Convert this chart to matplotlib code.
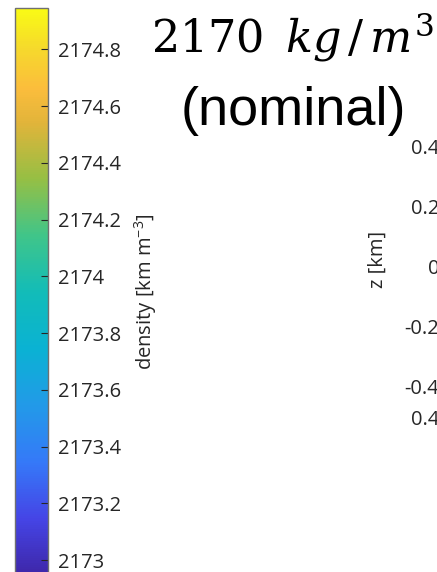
import numpy as np
import matplotlib
matplotlib.use("Agg")
from matplotlib import pyplot as plt
from matplotlib import colors
from matplotlib.cm import ScalarMappable

# data
cbar_min = 2172.944
cbar_max = 2174.946
cbar_ticks = [2173, 2173.2, 2173.4, 2173.6, 2173.8, 2174, 2174.2, 2174.4, 2174.6, 2174.8]
cbar_labels = ['2173', '2173.2', '2173.4', '2173.6', '2173.8', '2174',
               '2174.2', '2174.4', '2174.6', '2174.8']
cbar_title = r'density [km m$^{-3}$]'
title_line1 = r'$\mathrm{2170}\ \,\mathit{kg}\,/\,\mathit{m}^\mathrm{3}$'
title_line2 = '(nominal)'
z_ticks = [-0.4, -0.2, 0, 0.2, 0.4]
z_labels = ['-0.4', '-0.2', '0', '0.2', '0.4']
z_lim = [-0.453, 0.5]
lower_ticks = [-0.4, 0, 0.4]
lower_labels = ['-0.4', '0', '0.4']
lower_lim = [-0.5, 0.4]

# parula-like colormap
parula = colors.LinearSegmentedColormap.from_list('parula', [
    (0.00, '#3E26A8'), (0.10, '#4545E6'), (0.20, '#3579F8'),
    (0.30, '#229AE8'), (0.40, '#0AB2D3'), (0.50, '#12BCB8'),
    (0.60, '#40C589'), (0.70, '#96BF44'), (0.80, '#E2B43A'),
    (0.86, '#FBBD3C'), (0.93, '#F6D92C'), (1.00, '#F9FB15')])

plt.rcParams['font.family'] = ['Open Sans', 'DejaVu Sans']
plt.rcParams['mathtext.default'] = 'regular'
txt = '#262626'

W, H = 437, 572
fig = plt.figure(figsize=(W / 100, H / 100), dpi=100)

def px(x0, y0, x1, y1):
    # pixel box (from top-left) -> figure fraction rect
    return [x0 / W, 1 - y1 / H, (x1 - x0) / W, (y1 - y0) / H]

# colorbar
cax = fig.add_axes(px(15.5, 8, 48, 576))
norm = colors.Normalize(vmin=cbar_min, vmax=cbar_max)
cb = fig.colorbar(ScalarMappable(norm=norm, cmap=parula), cax=cax)
cb.set_ticks(cbar_ticks)
cb.set_ticklabels(cbar_labels)
cb.outline.set_edgecolor('#707070')
cb.outline.set_linewidth(1.0)
cax.tick_params(axis='y', direction='in', length=5, width=0.8, color=txt,
                labelsize=14.5, labelcolor=txt, pad=7)
cb.set_label(cbar_title, fontsize=14.5, color=txt, labelpad=8)

# title
fig.text(151 / W, 1 - 52 / H, title_line1, fontsize=32, ha='left', va='baseline',
         color='black', family='DejaVu Serif', math_fontfamily='dejavuserif')
fig.text(293 / W, 1 - 125 / H, title_line2, fontsize=39, ha='center', va='baseline',
         color='black', family='Liberation Sans')

# partially visible axes on the right
ax = fig.add_axes(px(445, 116, 700, 402))
ax.set_ylim(z_lim)
ax.set_yticks(z_ticks)
ax.set_yticklabels(z_labels)
ax.set_xticks([])
ax.tick_params(axis='y', direction='in', length=5, labelsize=14.5, labelcolor=txt, pad=4)
ax.set_ylabel('z [km]', fontsize=14.5, color=txt, labelpad=12)

ax2 = fig.add_axes(px(445, 418, 700, 900))
ax2.set_ylim(lower_lim)
ax2.set_yticks(lower_ticks)
ax2.set_yticklabels(lower_labels)
ax2.set_xticks([])
ax2.tick_params(axis='y', direction='in', length=5, labelsize=14.5, labelcolor=txt, pad=4)

fig.savefig('out.png', dpi=100)
